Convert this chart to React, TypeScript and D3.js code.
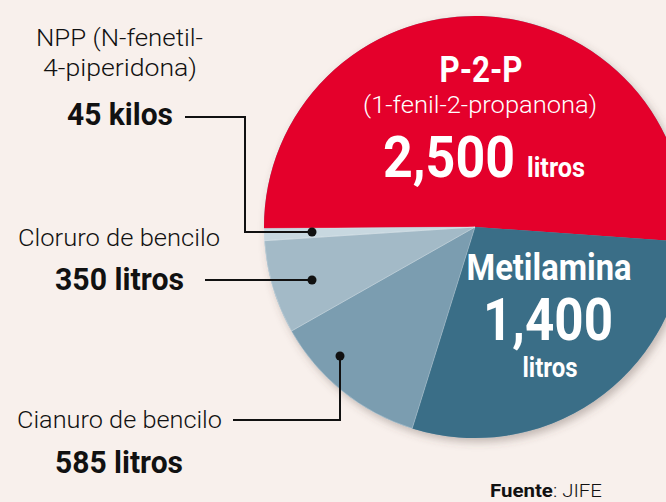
import React, { useEffect, useRef } from "react";
import * as d3 from "d3";

const categories = ["P-2-P", "Metilamina", "Cianuro de bencilo", "Cloruro de bencilo", "NPP"];
const values = [2500, 1400, 585, 350, 45];
const colors = ["#E4002B", "#3A6E87", "#7B9DB0", "#A3BAC7", "#C8D8E0"];

const W = 666;
const H = 502;

export default function App() {
  const ref = useRef<SVGSVGElement | null>(null);

  useEffect(() => {
    const svg = d3.select(ref.current);
    svg.selectAll("*").remove();

    const cx = 475, cy = 227, r = 211;
    const defs = svg.append("defs");
    const f = defs.append("filter").attr("id", "sh").attr("x", "-20%").attr("y", "-20%").attr("width", "140%").attr("height", "140%");
    f.append("feDropShadow").attr("dx", 3).attr("dy", 4).attr("stdDeviation", 4).attr("flood-color", "#5a4a40").attr("flood-opacity", 0.35);

    svg.append("rect").attr("width", W).attr("height", H).attr("fill", "#F8F0EC");

    const start = (-90.4 * Math.PI) / 180;
    const pie = d3.pie<number>().sort(null).startAngle(start).endAngle(start + 2 * Math.PI);
    const arcs = pie(values);
    const arc = d3.arc<d3.PieArcDatum<number>>().innerRadius(0).outerRadius(r);

    const g = svg.append("g").attr("transform", `translate(${cx},${cy})`);
    g.append("circle").attr("r", r).attr("fill", "#7B9DB0").attr("filter", "url(#sh)");
    g.selectAll("path.s")
      .data(arcs)
      .enter()
      .append("path")
      .attr("class", "s")
      .attr("d", arc as any)
      .attr("fill", (_d, i) => colors[i])
      .attr("stroke", (_d, i) => (i >= 2 ? "rgba(255,255,255,0.35)" : "none"))
      .attr("stroke-width", 0.8);

    const font = "Roboto, 'Open Sans', sans-serif";
    const txt = (
      s: string, x: number, y: number, size: number, weight: number, fill: string, len: number, anchor = "start"
    ) =>
      svg.append("text")
        .attr("x", x).attr("y", y)
        .attr("font-family", font).attr("font-size", size).attr("font-weight", weight)
        .attr("fill", fill).attr("text-anchor", anchor)
        .attr("textLength", len).attr("lengthAdjust", "spacingAndGlyphs")
        .text(s);

    // Left labels
    txt("NPP (N-fenetil-", 36, 46, 23, 300, "#111", 167);
    txt("4-piperidona)", 43, 76, 23, 300, "#111", 154);
    txt("45 kilos", 67, 125, 32, 700, "#111", 106);

    txt("Cloruro de bencilo", 18, 246, 23, 300, "#111", 202);
    txt("350 litros", 55, 290, 32, 700, "#111", 129);

    txt("Cianuro de bencilo", 17, 428, 23, 300, "#111", 205);
    txt("585 litros", 55, 473, 32, 700, "#111", 128);

    // Leader lines
    const line = (pts: [number, number][]) =>
      svg.append("path").attr("d", d3.line()(pts) as string).attr("fill", "none").attr("stroke", "#111").attr("stroke-width", 2);
    const dot = (x: number, y: number) => svg.append("circle").attr("cx", x).attr("cy", y).attr("r", 4.5).attr("fill", "#111");

    line([[185, 117], [245, 117], [245, 232], [312, 232]]);
    dot(312, 232);
    line([[205, 280], [312, 280]]);
    dot(312, 280);
    line([[233, 420], [340, 420], [340, 356]]);
    dot(340, 356);

    // In-pie labels
    txt("P-2-P", 481, 82, 36, 700, "#fff", 83, "middle");
    txt("(1-fenil-2-propanona)", 480, 113, 23, 300, "#fff", 234, "middle");
    txt("2,500", 383, 177, 58, 700, "#fff", 132);
    txt("litros", 527, 177, 27, 700, "#fff", 58);

    txt("Metilamina", 549, 280, 36, 700, "#fff", 165, "middle");
    txt("1,400", 548, 340, 59, 700, "#fff", 130, "middle");
    txt("litros", 550, 377, 27, 700, "#fff", 55, "middle");

    // Source
    const src = svg.append("text").attr("x", 490).attr("y", 497).attr("font-family", font).attr("font-size", 18).attr("fill", "#111")
      .attr("textLength", 112).attr("lengthAdjust", "spacingAndGlyphs");
    src.append("tspan").attr("font-weight", 700).text("Fuente");
    src.append("tspan").attr("font-weight", 300).text(": JIFE");
  }, []);

  return (
    <svg
      ref={ref}
      width={W}
      height={H}
      style={{ position: "absolute", left: 0, top: 0, display: "block" }}
    />
  );
}
